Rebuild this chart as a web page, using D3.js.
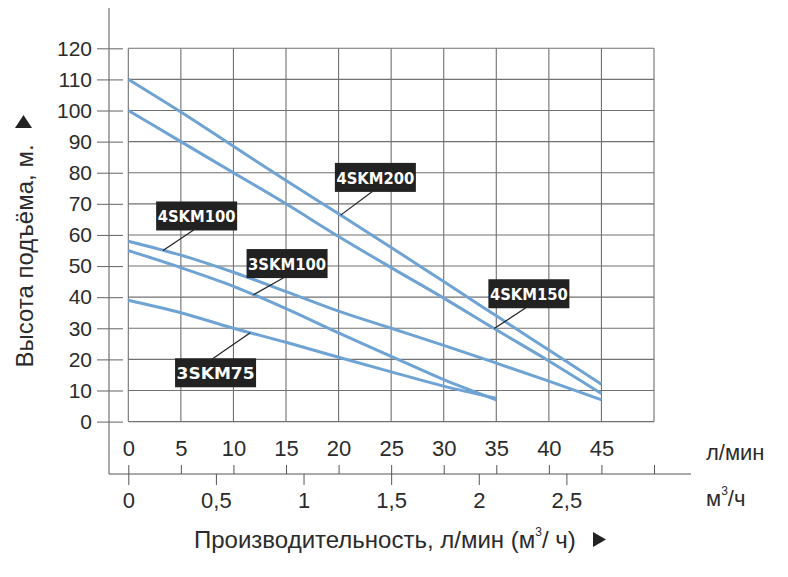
<!DOCTYPE html>
<html>
<head>
<meta charset="utf-8">
<script src="https://d3js.org/d3.v7.min.js"></script>
<style>
  body { margin: 0; background: #fff; }
  svg { display: block; }
  text { font-family: "Liberation Sans Narrow", "Liberation Sans", Arial, sans-serif; fill: #2b2b2b; }
  .lbl text { font-family: "DejaVu Sans", Verdana, sans-serif; font-weight: bold; fill: #fff; }
</style>
</head>
<body>
<svg width="788" height="577"></svg>
<script>
// flow, l/min
const flowLpm = [0, 5, 10, 15, 20, 25, 30, 35, 40, 45];
// head, m
const head4SKM200 = [110, 99.5, 88.5, 77.5, 66.8, 56, 45, 34, 23, 12];
const head4SKM150 = [100, 90, 80, 70, 59.5, 49.5, 39.7, 29.5, 19.5, 9];
const head4SKM100 = [58, 53.5, 48, 41.8, 35.5, 30, 24.5, 18.8, 13, 7];
const head3SKM100 = [55, 49.5, 43.5, 36.3, 28.5, 21, 13.5, 7];
const head3SKM75  = [39, 35, 30, 25.5, 20.7, 16, 11.4, 7.5];

const yTicks = [0, 10, 20, 30, 40, 50, 60, 70, 80, 90, 100, 110, 120];
const lpmTicks = [0, 5, 10, 15, 20, 25, 30, 35, 40, 45];
const m3Ticks = [0, 0.5, 1, 1.5, 2, 2.5];

// label boxes: name, centre (flow, head), point on curve (flow)
const labelNames = ["4SKM200", "4SKM150", "4SKM100", "3SKM100", "3SKM75"];
const labelFlow  = [23.5, 38.1, 6.5, 15.1, 8.3];
const labelHead  = [78.5, 41.1, 66.1, 50.8, 15.7];
const labelAnchor = [20.2, 34.8, 3.3, 11.9, 11.6];

const series = [head4SKM200, head4SKM150, head4SKM100, head3SKM100, head3SKM75];

const svg = d3.select("svg");

const x = d3.scaleLinear().domain([0, 50]).range([128.3, 654]);
const y = d3.scaleLinear().domain([0, 120]).range([421.6, 48.3]);
// 1 m3/h = 1000/60 l/min
const xm3 = d3.scaleLinear().domain([0, 3]).range([128.3, 654]);

// grid
const grid = svg.append("g").attr("stroke", "#707070").attr("stroke-width", 1.1);
grid.selectAll(".v").data(d3.range(0, 51, 5)).enter().append("line")
  .attr("x1", d => x(d)).attr("x2", d => x(d))
  .attr("y1", y(120)).attr("y2", y(0));
grid.selectAll(".h").data(yTicks).enter().append("line")
  .attr("x1", x(0)).attr("x2", x(50))
  .attr("y1", d => y(d)).attr("y2", d => y(d));

// axis frame lines
svg.append("line").attr("x1", 109).attr("x2", 109).attr("y1", 8).attr("y2", 474)
  .attr("stroke", "#555").attr("stroke-width", 1);
svg.append("line").attr("x1", 109).attr("x2", 691).attr("y1", 474).attr("y2", 474)
  .attr("stroke", "#555").attr("stroke-width", 1);

// y axis
const yAxis = svg.append("g").attr("transform", "translate(123,0)")
  .call(d3.axisLeft(y).tickValues(yTicks).tickSize(26).tickPadding(5));
yAxis.select(".domain").remove();
yAxis.selectAll(".tick line").attr("stroke", "#707070").attr("stroke-width", 1.1);
yAxis.selectAll("text").attr("font-size", 21).attr("font-family", null).attr("fill", "#2b2b2b");

// l/min labels
const lAxis = svg.append("g").attr("transform", "translate(0," + y(0) + ")")
  .call(d3.axisBottom(x).tickValues(lpmTicks).tickSize(0).tickPadding(19));
lAxis.select(".domain").remove();
lAxis.selectAll("text").attr("font-size", 22).attr("font-family", null).attr("fill", "#2b2b2b");

// small ticks above bottom line
const tAxis = svg.append("g").attr("transform", "translate(0,474)")
  .call(d3.axisTop(x).tickValues(d3.range(0, 51, 5)).tickSize(9).tickFormat(""));
tAxis.select(".domain").remove();
tAxis.selectAll(".tick line").attr("stroke", "#555");

// m3/h axis
const mAxis = svg.append("g").attr("transform", "translate(0,474)")
  .call(d3.axisBottom(xm3).tickValues(m3Ticks).tickSize(11).tickPadding(7)
    .tickFormat(d => String(d).replace(".", ",")));
mAxis.select(".domain").remove();
mAxis.selectAll(".tick line").attr("stroke", "#555");
mAxis.selectAll("text").attr("font-size", 22).attr("font-family", null).attr("fill", "#2b2b2b");

// unit labels
svg.append("text").attr("x", 706).attr("y", 460).attr("font-size", 22).text("л/мин");
const u = svg.append("text").attr("x", 706).attr("y", 506).attr("font-size", 22);
u.append("tspan").text("м");
u.append("tspan").attr("font-size", 12).attr("dy", -11).text("3");
u.append("tspan").attr("dy", 11).text("/ч");

// x title
const xt = svg.append("text").attr("x", 194).attr("y", 548).attr("font-size", 24);
xt.append("tspan").text("Производительность, л/мин (м");
xt.append("tspan").attr("font-size", 12).attr("dy", -12).text("3");
xt.append("tspan").attr("dy", 12).text("/ ч)");
svg.append("path").attr("d", "M593,532 L606,539.5 L593,547 Z").attr("fill", "#222");

// y title
svg.append("text").attr("transform", "translate(33,256) rotate(-90)")
  .attr("text-anchor", "middle").attr("font-size", 24).text("Высота подъёма, м.");
svg.append("path").attr("d", "M15,128 L23.5,115 L32,128 Z").attr("fill", "#222");

// curves
const line = d3.line().x((d, i) => x(flowLpm[i])).y(d => y(d)).curve(d3.curveMonotoneX);
svg.append("g").selectAll("path").data(series).enter().append("path")
  .attr("d", line).attr("fill", "none")
  .attr("stroke", "#6ea3d4").attr("stroke-width", 3);

// labels
function headAt(s, f) {
  const xs = flowLpm.slice(0, s.length);
  return d3.scaleLinear().domain(xs).range(s)(f);
}
const lbl = svg.append("g").attr("class", "lbl");
labelNames.forEach((name, i) => {
  const cx = x(labelFlow[i]), cy = y(labelHead[i]);
  const ax = x(labelAnchor[i]), ay = y(headAt(series[i], labelAnchor[i]));
  const startY = ay > cy ? cy + 14 : cy - 14;
  lbl.append("line").attr("x1", cx - 3).attr("y1", startY).attr("x2", ax).attr("y2", ay)
    .attr("stroke", "#222").attr("stroke-width", 1.2);
  lbl.append("rect").attr("x", cx - 40.5).attr("y", cy - 14.5).attr("width", 81).attr("height", 29)
    .attr("fill", "#222");
  lbl.append("text").attr("x", cx).attr("y", cy + 6.5).attr("text-anchor", "middle")
    .attr("font-size", 16.5).attr("textLength", 78).attr("lengthAdjust", "spacingAndGlyphs")
    .text(name);
});
</script>
</body>
</html>
